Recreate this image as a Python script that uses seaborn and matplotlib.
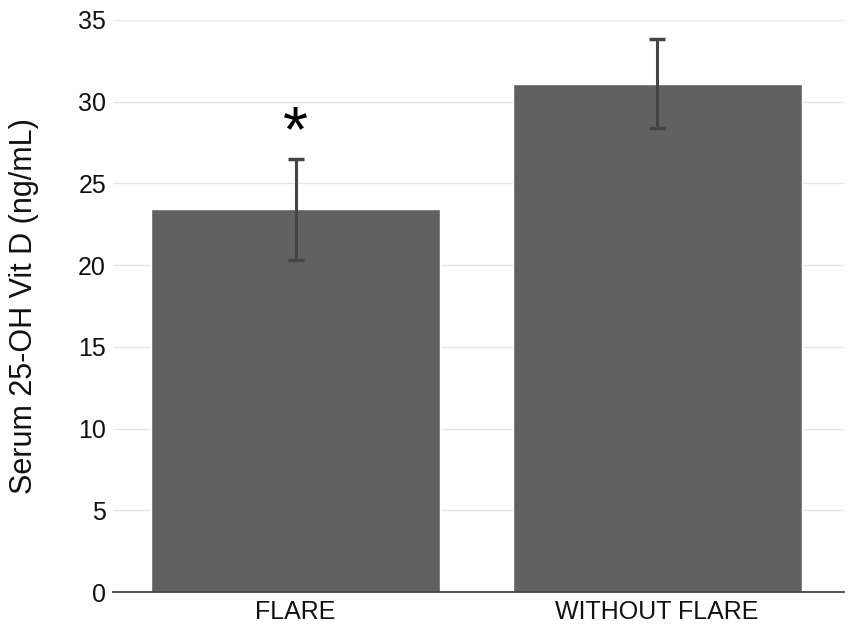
import numpy as np
import pandas as pd
import matplotlib
matplotlib.use('Agg')
import matplotlib.pyplot as plt
import seaborn as sns

# donnees
groups = ['FLARE', 'WITHOUT FLARE']
vitd_mean = [23.4, 31.1]
vitd_err = [3.1, 2.7]
yticks = [0, 5, 10, 15, 20, 25, 30, 35]

df = pd.DataFrame({'group': groups, 'vitd': vitd_mean})

sns.set_style('white')
plt.rcParams['font.family'] = ['Liberation Sans', 'DejaVu Sans']

fig = plt.figure(figsize=(8.5, 6.38), dpi=100)
ax = fig.add_axes([0.133, 0.072, 0.86, 0.897])

sns.barplot(data=df, x='group', y='vitd', color='#616161', saturation=1,
            width=0.8, errorbar=None, ax=ax, zorder=2)
ax.errorbar(np.arange(len(groups)), vitd_mean, yerr=vitd_err, fmt='none',
            ecolor='#444444', elinewidth=2.2, capsize=5.5, capthick=2.5, zorder=3)

# asterisque de significativite
ax.text(0, vitd_mean[0] + vitd_err[0] + 1.5, '*', ha='center', va='center',
        fontsize=46, color='black')

ax.set_ylim(0, 35)
ax.set_xlim(-0.505, 1.517)
ax.set_yticks(yticks)
ax.yaxis.grid(True, color='#e6e6e6', linewidth=1, zorder=0)
ax.set_axisbelow(True)
ax.set_xlabel('')
ax.set_ylabel('Serum 25-OH Vit D (ng/mL)', fontsize=22, labelpad=28, color='#111111')
ax.tick_params(axis='both', labelsize=18, length=0, pad=5, labelcolor='#111111')
ax.tick_params(axis='x', pad=6)

for s in ['top', 'right', 'left']:
    ax.spines[s].set_visible(False)
ax.spines['bottom'].set_color('#444444')
ax.spines['bottom'].set_linewidth(1.3)

plt.savefig('out.png', dpi=100)
